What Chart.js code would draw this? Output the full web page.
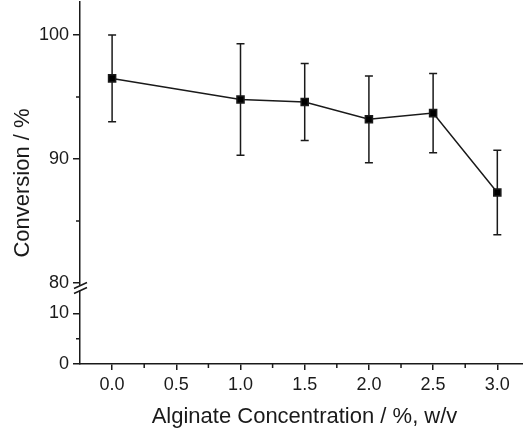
<!DOCTYPE html>
<html>
<head>
<meta charset="utf-8">
<script src="https://cdn.jsdelivr.net/npm/chart.js@4/dist/chart.umd.min.js"></script>
<style>
  html, body { margin: 0; padding: 0; background: #fff; }
  #wrap { width: 523px; height: 436px; }
</style>
</head>
<body>
<div id="wrap"><canvas id="conversionChart"></canvas></div>
<script>
// 데이터
const concentration = [0.0, 1.0, 1.5, 2.0, 2.5, 3.0];
const conversion = [96.5, 94.8, 94.6, 93.2, 93.7, 87.3];
const conversionErr = [3.5, 4.5, 3.1, 3.5, 3.2, 3.4];
const xTicks = [0.0, 0.5, 1.0, 1.5, 2.0, 2.5, 3.0];
const upperTicks = [80, 90, 100];
const lowerTicks = [0, 10];

const ink = '#1a1a1a';
const tickFont = { family: 'Liberation Sans, Arial, sans-serif', size: 18 };

// 축 공통 스타일
function axisStyle(ticks) {
    return {
        grid: { drawOnChartArea: false, color: ink, tickLength: 7, lineWidth: 1.5 },
        border: { color: ink, width: 1.5 },
        ticks: { font: tickFont, color: ink, padding: 4 },
        afterBuildTicks: function(scale) {
            scale.ticks = ticks.map(v => ({ value: v }));
        }
    };
}

// y축 폭 고정, 라벨 여백 제거
function fitY(s) {
    s.width = 80;
    s.paddingTop = 0;
    s.paddingBottom = 0;
}

// 오차 막대, 보조 눈금, 축 끊김, 축 제목
const decorations = {
    id: 'decorations',
    beforeDatasetsDraw(chart) {
        const ctx = chart.ctx;
        const x = chart.scales.x, y = chart.scales.y;
        ctx.save();
        ctx.strokeStyle = ink;
        ctx.lineWidth = 1.5;
        concentration.forEach((c, i) => {
            const px = x.getPixelForValue(c);
            const top = y.getPixelForValue(conversion[i] + conversionErr[i]);
            const bot = y.getPixelForValue(conversion[i] - conversionErr[i]);
            ctx.beginPath();
            ctx.moveTo(px, top); ctx.lineTo(px, bot);
            ctx.moveTo(px - 4, top); ctx.lineTo(px + 4, top);
            ctx.moveTo(px - 4, bot); ctx.lineTo(px + 4, bot);
            ctx.stroke();
        });
        ctx.restore();
    },
    afterDraw(chart) {
        const ctx = chart.ctx;
        const area = chart.chartArea;
        const x = chart.scales.x, y = chart.scales.y, yLow = chart.scales.yLow;
        ctx.save();
        ctx.strokeStyle = ink;
        ctx.lineWidth = 1.5;
        // 보조 눈금
        ctx.beginPath();
        for (let i = 0; i < xTicks.length - 1; i++) {
            const px = x.getPixelForValue((xTicks[i] + xTicks[i + 1]) / 2);
            ctx.moveTo(px, area.bottom); ctx.lineTo(px, area.bottom + 4);
        }
        [[y, upperTicks], [yLow, lowerTicks]].forEach(([s, t]) => {
            for (let i = 0; i < t.length - 1; i++) {
                const py = s.getPixelForValue((t[i] + t[i + 1]) / 2);
                ctx.moveTo(area.left, py); ctx.lineTo(area.left - 4, py);
            }
        });
        ctx.stroke();
        // 축 끊김 표시
        const bk = y.bottom;
        ctx.fillStyle = '#fff';
        ctx.fillRect(area.left - 2, bk - 2, 4, 5);
        ctx.beginPath();
        ctx.moveTo(area.left - 6, bk + 1); ctx.lineTo(area.left + 7, bk - 5);
        ctx.moveTo(area.left - 6, bk + 6); ctx.lineTo(area.left + 7, bk);
        ctx.stroke();
        // 축 제목
        ctx.fillStyle = ink;
        ctx.font = '22px Liberation Sans, Arial, sans-serif';
        ctx.textAlign = 'center';
        ctx.textBaseline = 'alphabetic';
        ctx.fillText('Alginate Concentration / %, w/v', (area.left + area.right) / 2 + 3, 423);
        ctx.translate(29, 183);
        ctx.rotate(-Math.PI / 2);
        ctx.fillText('Conversion / %', 0, 0);
        ctx.restore();
    }
};

document.addEventListener('DOMContentLoaded', function() {
    const ctx = document.getElementById('conversionChart').getContext('2d');
    const xAxis = axisStyle(xTicks);
    xAxis.grid.tickLength = 6;
    xAxis.ticks.callback = v => v.toFixed(1);

    new Chart(ctx, {
        type: 'line',
        data: {
            datasets: [{
                label: 'Conversion',
                data: concentration.map((c, i) => ({ x: c, y: conversion[i] })),
                yAxisID: 'y',
                borderColor: ink,
                backgroundColor: '#000',
                borderWidth: 1.5,
                pointStyle: 'rect',
                pointRadius: 5,
                pointHoverRadius: 5,
                tension: 0
            }]
        },
        options: {
            responsive: true,
            maintainAspectRatio: false,
            animation: false,
            layout: { autoPadding: false, padding: { top: 2, right: 0, left: 0, bottom: 0 } },
            plugins: {
                legend: { display: false },
                tooltip: { enabled: false }
            },
            scales: {
                x: Object.assign({
                    type: 'linear',
                    position: 'bottom',
                    min: -0.25,
                    max: 3.2,
                    afterFit: s => { s.height = 72; }
                }, xAxis),
                // 쌓인 축은 나중에 정의한 것이 위로 간다
                yLow: Object.assign({
                    type: 'linear',
                    position: 'left',
                    stack: 'conv',
                    stackWeight: 76.5,
                    min: 0,
                    max: 15.12,
                    afterFit: fitY
                }, axisStyle(lowerTicks)),
                y: Object.assign({
                    type: 'linear',
                    position: 'left',
                    stack: 'conv',
                    stackWeight: 285.5,
                    min: 79.64,
                    max: 102.66,
                    afterFit: fitY
                }, axisStyle(upperTicks))
            }
        },
        plugins: [decorations]
    });
});
</script>
</body>
</html>
